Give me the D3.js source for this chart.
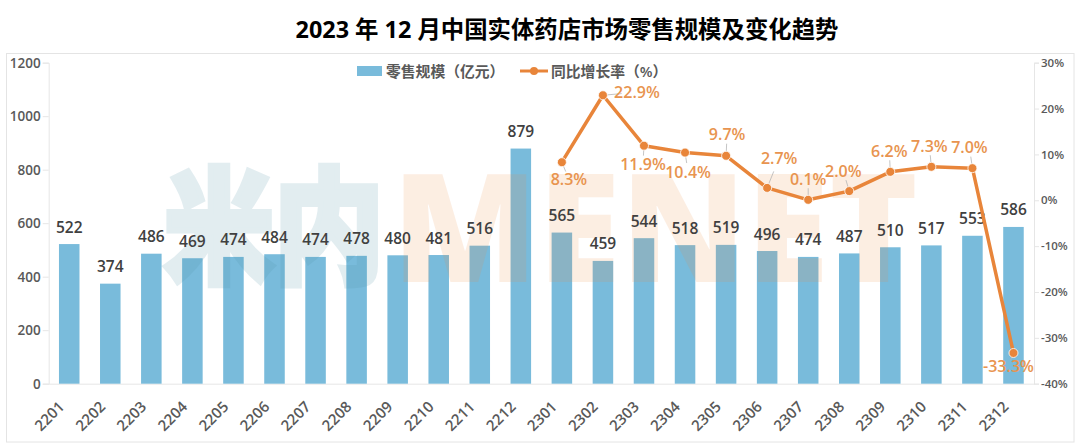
<!DOCTYPE html>
<html>
<head>
<meta charset="utf-8">
<script src="https://cdn.jsdelivr.net/npm/d3@7"></script>
<style>
    html, body { margin: 0; padding: 0; background: #fff; }
    text { font-family: "Open Sans", "Noto Sans CJK SC", sans-serif; }
</style>
</head>
<body>
<div id="visualization"></div>
<script>
const months = ['2201', '2202', '2203', '2204', '2205', '2206', '2207', '2208', '2209', '2210', '2211', '2212',
    '2301', '2302', '2303', '2304', '2305', '2306', '2307', '2308', '2309', '2310', '2311', '2312'];
const retailSales = [522, 374, 486, 469, 474, 484, 474, 478, 480, 481, 516, 879,
    565, 459, 544, 518, 519, 496, 474, 487, 510, 517, 553, 586];
const growthMonths = months.slice(12);
const growthRates = [8.3, 22.9, 11.9, 10.4, 9.7, 2.7, 0.1, 2.0, 6.2, 7.3, 7.0, -33.3];
const salesTicks = [0, 200, 400, 600, 800, 1000, 1200];
const rateTicks = [-40, -30, -20, -10, 0, 10, 20, 30];

const titleText = '2023 年 12 月中国实体药店市场零售规模及变化趋势';
const legendLabels = ['零售规模（亿元）', '同比增长率（%）'];

// hand placed growth labels, px from the point
const rateLabelOffsets = [[7, 17], [34, -3], [-1, 18], [3, 19], [1, -22], [12, -30],
    [0, -21], [-6, -20], [-1, -21], [-2, -21], [-3, -21], [-5, 13]];

const width = 1080, height = 446;
const barColor = '#79bbdb', lineColor = '#e8853a', labelOrange = '#e8944f';
const axisColor = '#e6e6e6', tickText = '#595959', valueText = '#404040';

const svg = d3.select('#visualization').append('svg')
    .attr('width', width)
    .attr('height', height)
    .style('display', 'block');

const x = d3.scaleBand().domain(months).range([48.7, 1034]).paddingInner(0.5).paddingOuter(0.25);
const y = d3.scaleLinear().domain([0, 1200]).range([383.7, 62.7]);
const yRate = d3.scaleLinear().domain([-40, 30]).range([383.7, 62.7]);
const xMid = m => x(m) + x.bandwidth() / 2;

// Title
svg.append('text')
    .attr('x', 567)
    .attr('y', 38)
    .attr('text-anchor', 'middle')
    .style('font-size', '23.4px')
    .style('font-weight', 700)
    .style('fill', '#000')
    .text(titleText);

// Outer frame
svg.append('rect')
    .attr('x', 6.5)
    .attr('y', 53.5)
    .attr('width', 1067.5)
    .attr('height', 388.5)
    .attr('fill', 'none')
    .attr('stroke', '#e4e4e4')
    .attr('stroke-width', 1);

// Axes
const leftAxis = svg.append('g')
    .attr('transform', 'translate(48.7,0)')
    .call(d3.axisLeft(y).tickValues(salesTicks).tickSize(6).tickPadding(2).tickFormat(d => d));
const rightAxis = svg.append('g')
    .attr('transform', 'translate(1034,0)')
    .call(d3.axisRight(yRate).tickValues(rateTicks).tickSize(5).tickPadding(2).tickFormat(d => d + '%'));
const bottomAxis = svg.append('g')
    .attr('transform', 'translate(0,383.7)')
    .call(d3.axisBottom(x).tickSize(0));

[leftAxis, rightAxis, bottomAxis].forEach(a => {
    a.selectAll('.domain, line').attr('stroke', axisColor);
    a.selectAll('text').style('fill', tickText).style('font-weight', 600);
});
leftAxis.selectAll('text').style('font-size', '13.5px');
rightAxis.selectAll('text').style('font-size', '11.5px');
bottomAxis.selectAll('text')
    .style('font-size', '15px')
    .attr('text-anchor', 'end')
    .attr('dy', 0)
    .attr('y', 0)
    .attr('transform', 'translate(-4,24) rotate(-45)');

// Bars
svg.append('g').selectAll('rect')
    .data(retailSales)
    .join('rect')
    .attr('x', (d, i) => x(months[i]))
    .attr('y', d => y(d))
    .attr('width', x.bandwidth())
    .attr('height', d => y(0) - y(d))
    .attr('fill', barColor);

// Watermark sits over the bars, they show through it
const watermark = svg.append('g').style('pointer-events', 'none');
watermark.append('text')
    .attr('x', 164)
    .attr('y', 273)
    .attr('textLength', 220)
    .attr('lengthAdjust', 'spacingAndGlyphs')
    .style('font-size', '125px')
    .style('font-weight', 900)
    .style('fill', '#4f93a8')
    .style('stroke', '#4f93a8')
    .style('stroke-width', 6)
    .style('opacity', 0.16)
    .text('米内');
watermark.append('text')
    .attr('x', 392)
    .attr('y', 282)
    .attr('textLength', 526)
    .attr('lengthAdjust', 'spacingAndGlyphs')
    .style('font-size', '150px')
    .style('font-weight', 800)
    .style('fill', '#f08a3c')
    .style('opacity', 0.14)
    .text('MENET');

// Bar value labels
svg.append('g').selectAll('text')
    .data(retailSales)
    .join('text')
    .attr('x', (d, i) => xMid(months[i]))
    .attr('y', d => y(d) - 11.5)
    .attr('text-anchor', 'middle')
    .style('font-size', '15.5px')
    .style('font-weight', 600)
    .style('fill', valueText)
    .text(d => d);

// Growth line
const line = d3.line()
    .x((d, i) => xMid(growthMonths[i]))
    .y(d => yRate(d));

svg.append('path')
    .datum(growthRates)
    .attr('d', line)
    .attr('fill', 'none')
    .attr('stroke', lineColor)
    .attr('stroke-width', 3.5)
    .attr('stroke-linejoin', 'round');

// Leader lines to the growth labels
svg.append('g').selectAll('line')
    .data(growthRates)
    .join('line')
    .attr('x1', (d, i) => xMid(growthMonths[i]))
    .attr('y1', d => yRate(d))
    .attr('x2', (d, i) => xMid(growthMonths[i]) + rateLabelOffsets[i][0] * 0.55)
    .attr('y2', (d, i) => yRate(d) + rateLabelOffsets[i][1] * 0.55)
    .attr('stroke', '#b5b5b5')
    .attr('stroke-width', 0.8);

svg.append('g').selectAll('circle')
    .data(growthRates)
    .join('circle')
    .attr('cx', (d, i) => xMid(growthMonths[i]))
    .attr('cy', d => yRate(d))
    .attr('r', 4.5)
    .attr('fill', lineColor)
    .attr('stroke', '#fff')
    .attr('stroke-width', 0.8);

svg.append('g').selectAll('text')
    .data(growthRates)
    .join('text')
    .attr('x', (d, i) => xMid(growthMonths[i]) + rateLabelOffsets[i][0])
    .attr('y', (d, i) => yRate(d) + rateLabelOffsets[i][1])
    .attr('text-anchor', 'middle')
    .attr('dominant-baseline', 'central')
    .style('font-size', '16px')
    .style('font-weight', 600)
    .style('fill', labelOrange)
    .text(d => d.toFixed(1) + '%');

// Legend
const legend = svg.append('g');
legend.append('rect')
    .attr('x', 357)
    .attr('y', 66)
    .attr('width', 25)
    .attr('height', 10)
    .attr('fill', barColor);
legend.append('text')
    .attr('x', 386)
    .attr('y', 76.5)
    .style('font-size', '14.8px')
    .style('font-weight', 600)
    .style('fill', tickText)
    .text(legendLabels[0]);
legend.append('line')
    .attr('x1', 520)
    .attr('x2', 548)
    .attr('y1', 71)
    .attr('y2', 71)
    .attr('stroke', lineColor)
    .attr('stroke-width', 3);
legend.append('circle')
    .attr('cx', 534)
    .attr('cy', 71)
    .attr('r', 4)
    .attr('fill', lineColor);
legend.append('text')
    .attr('x', 551)
    .attr('y', 76.5)
    .style('font-size', '14.8px')
    .style('font-weight', 600)
    .style('fill', tickText)
    .text(legendLabels[1]);
</script>
</body>
</html>
